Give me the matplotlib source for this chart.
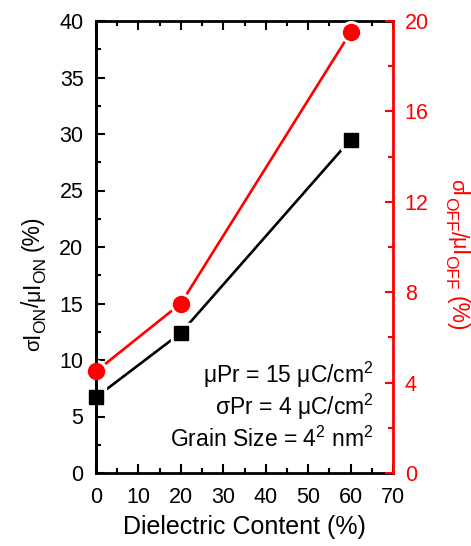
import matplotlib
matplotlib.use("Agg")
import matplotlib.pyplot as plt
from matplotlib.ticker import MultipleLocator
from matplotlib.transforms import IdentityTransform

plt.rcParams['font.family'] = ['Liberation Sans', 'DejaVu Sans']
plt.rcParams['mathtext.fontset'] = 'custom'
plt.rcParams['mathtext.rm'] = 'Liberation Sans'
plt.rcParams['mathtext.it'] = 'Liberation Sans'

dielectric = [0, 20, 60]
on_var = [6.7, 12.4, 29.5]
off_var = [4.5, 7.5, 19.5]

W, H = 471, 546
fig = plt.figure(figsize=(W / 100, H / 100), dpi=100)
ax = fig.add_axes([96 / W, 1 - 473 / H, (393 - 96) / W, (473 - 21) / H])
ax2 = ax.twinx()

# white halos to give the Origin-style gap between line and markers
ax.plot(dielectric, on_var, ls='none', marker='s', ms=14, color='white', zorder=2.1)
ax.plot(dielectric, on_var, color='black', lw=1.9, zorder=2)
ax.plot(dielectric, on_var, ls='none', marker='s', ms=10, color='black', zorder=3, clip_on=False)
ax2.plot(dielectric, off_var, ls='none', marker='o', ms=15.5, color='white', zorder=2.1)
ax2.plot(dielectric, off_var, color='red', lw=1.9, zorder=2)
ax2.plot(dielectric, off_var, ls='none', marker='o', ms=11.5, color='red', zorder=3, clip_on=False)

ax.set_xlim(0, 70)
ax.set_ylim(0, 40)
ax2.set_ylim(0, 20)

fs = 15.5
ax.xaxis.set_major_locator(MultipleLocator(10))
ax.xaxis.set_minor_locator(MultipleLocator(5))
ax.yaxis.set_major_locator(MultipleLocator(5))
ax.yaxis.set_minor_locator(MultipleLocator(2.5))
ax2.yaxis.set_major_locator(MultipleLocator(4))
ax2.yaxis.set_minor_locator(MultipleLocator(2))

ax.tick_params(axis='both', which='both', direction='in', top=True, right=False,
               labelsize=fs, width=1.5)
ax.tick_params(which='major', length=6.5)
ax.tick_params(which='minor', length=3.6)
ax.tick_params(axis='x', pad=10)
ax.tick_params(axis='y', pad=9)
ax2.tick_params(axis='y', which='both', direction='in', colors='red', labelsize=fs,
                width=1.5, pad=8.5)
ax2.tick_params(which='major', length=6)
ax2.tick_params(which='minor', length=3.6)

for sp in ['left', 'bottom', 'top']:
    ax.spines[sp].set_linewidth(2)
ax.spines['right'].set_visible(False)
ax2.spines['right'].set_color('red')
ax2.spines['right'].set_linewidth(2)
ax2.spines['left'].set_color('black')
ax2.spines['left'].set_linewidth(2)
ax2.spines['top'].set_visible(False)
ax2.spines['bottom'].set_visible(False)

ax.set_xlabel('Dielectric Content (%)', fontsize=18, labelpad=5)

ann_fs = 16.5
ax.text(0.935, 0.199, r'μPr = 15 μC/cm$^\mathregular{2}$', transform=ax.transAxes,
        ha='right', va='baseline', fontsize=ann_fs)
ax.text(0.935, 0.128, r'σPr = 4 μC/cm$^\mathregular{2}$', transform=ax.transAxes,
        ha='right', va='baseline', fontsize=ann_fs)
ax.text(0.935, 0.057, r'Grain Size = 4$^\mathregular{2}$ nm$^\mathregular{2}$', transform=ax.transAxes,
        ha='right', va='baseline', fontsize=ann_fs)


def rotated_label(segments, x_base, y_center, rotation, color):
    """segments: list of (text, fontsize, is_subscript, gap_before_px)."""
    renderer = fig.canvas.get_renderer()
    widths = []
    for s, size, sub, gap in segments:
        t = fig.text(0, 0, s, fontsize=size)
        widths.append(t.get_window_extent(renderer).width + gap)
        t.remove()
    total = sum(widths)
    shift = 6
    if rotation == 90:
        pos = y_center - total / 2
        for (s, size, sub, gap), w in zip(segments, widths):
            x = x_base + (shift if sub else 0)
            fig.text(x, pos + gap, s, fontsize=size, rotation=90, rotation_mode='anchor',
                     ha='left', va='baseline', color=color, transform=IdentityTransform())
            pos += w
    else:
        pos = y_center + total / 2
        for (s, size, sub, gap), w in zip(segments, widths):
            x = x_base - (shift if sub else 0)
            fig.text(x, pos - gap, s, fontsize=size, rotation=270, rotation_mode='anchor',
                     ha='left', va='baseline', color=color, transform=IdentityTransform())
            pos -= w


main_fs, sub_fs = 16.5, 12.5
left_segments = [('σ', main_fs - 2, False, 0), ('I', main_fs, False, 0), ('ON', sub_fs, True, -1),
                 ('/', main_fs, False, 0), ('μ', main_fs - 1, False, 0), ('I', main_fs, False, 0),
                 ('ON', sub_fs, True, -1), ('(%)', main_fs, False, 6)]
right_segments = [('σ', main_fs - 2, False, 0), ('I', main_fs, False, 0), ('OFF', sub_fs, True, -1),
                  ('/', main_fs, False, 0), ('μ', main_fs - 1, False, 0), ('I', main_fs, False, 0),
                  ('OFF', sub_fs, True, -1), ('(%)', main_fs, False, 6)]

fig.canvas.draw()
rotated_label(left_segments, 39, H - 283, 90, 'black')
rotated_label(right_segments, 451, H - 255, 270, 'red')

fig.savefig('out.png', dpi=100)
